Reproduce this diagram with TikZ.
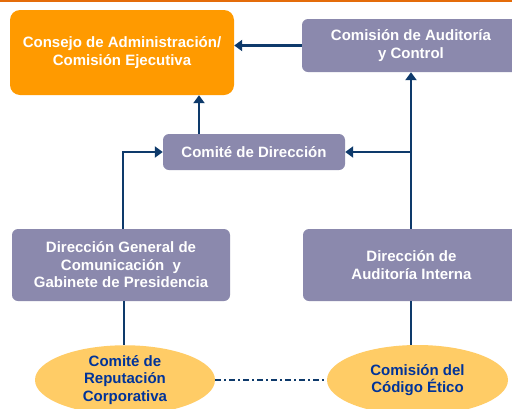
\documentclass[tikz,border=0pt]{standalone}
\usepackage{fontspec}
\setmainfont{Liberation Sans}
\usetikzlibrary{arrows.meta,shapes.geometric}
\definecolor{topline}{RGB}{228,108,10}
\definecolor{orbox}{RGB}{255,154,0}
\definecolor{pubox}{RGB}{139,137,173}
\definecolor{yell}{RGB}{255,204,102}
\definecolor{navy}{RGB}{14,58,107}
\definecolor{bluetxt}{RGB}{0,51,153}
\tikzset{
  txt/.style={font=\fontsize{15}{17.5}\selectfont\bfseries, align=center, inner sep=0pt},
  orangebox/.style={txt, fill=orbox, text=white, rounded corners=10pt},
  purplebox/.style={txt, fill=pubox, text=white, rounded corners=6pt},
  yellowell/.style={txt, ellipse, fill=yell, text=bluetxt},
  arr/.style={draw=navy, line width=2.5pt, -{Triangle[width=11pt,length=8pt]}},
  plain/.style={draw=navy, line width=2.5pt},
  dashdot/.style={draw=navy, line width=1.8pt, dash pattern=on 6pt off 3pt on 2pt off 3pt}
}
\begin{document}
\begin{tikzpicture}[x=1pt,y=-1pt]
\useasboundingbox (0,0) rectangle (512,408);
\fill[white] (0,0) rectangle (512,408);
\draw[topline, line width=3pt] (0,0.5) -- (512,0.5);

\node[orangebox, minimum width=224pt, minimum height=85pt] (cons) at (122,52.5)
  {Consejo de Administración/\\Comisión Ejecutiva};
\node[purplebox, minimum width=218pt, minimum height=53pt] (cac) at (411,45.5)
  {Comisión de Auditoría\\y Control};
\node[purplebox, minimum width=182pt, minimum height=36pt] (cd) at (254,152)
  {Comité de Dirección};
\node[purplebox, minimum width=218pt, minimum height=72pt] (dg) at (121,265)
  {Dirección General de\\Comunicación\ \ y\\Gabinete de Presidencia};
\node[purplebox, minimum width=217pt, minimum height=72pt] (dai) at (411.5,265)
  {Dirección de\\Auditoría Interna};
\node[yellowell, minimum width=180pt, minimum height=68pt] (el1) at (125,380)
  {Comité de\\Reputación\\Corporativa};
\node[yellowell, minimum width=181pt, minimum height=70pt] (el2) at (417.5,380)
  {Comisión del\\Código Ético};

\draw[arr] (cac.west) -- (cons.east |- cac.west);
\draw[arr] ([xshift=-0.5pt]dai.north) -- ([xshift=-0.5pt]dai.north |- cac.south);
\draw[arr] ([xshift=-55pt]cd.north) -- ([xshift=-55pt]cd.north |- cons.south);
\draw[arr] ([xshift=-0.5pt]dai.north |- cd.east) -- (cd.east);
\draw[arr] ([xshift=2pt]dg.north) |- (cd.west);
\draw[plain] ([xshift=3pt]dg.south) -- ([xshift=3pt]dg.south |- el1.north);
\draw[plain] ([xshift=-0.5pt]dai.south) -- ([xshift=-0.5pt]dai.south |- el2.north);
\draw[dashdot] (el1.east) -- (el2.west);
\end{tikzpicture}
\end{document}
